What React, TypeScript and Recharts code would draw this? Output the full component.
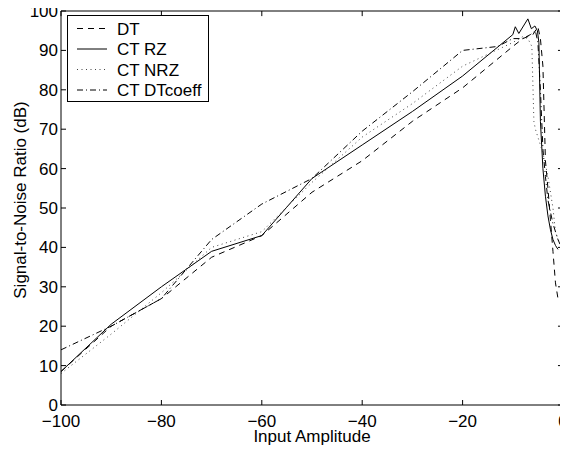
import { LineChart, Line, XAxis, YAxis, Legend, ReferenceLine } from 'recharts';

// DT
const dtX = [-100, -90, -80, -70, -60, -50, -40, -30, -20, -10, -8, -6, -5, -4.5, -4, -3.5, -3, -2.5, -2, -1.5, -1];
const dtY = [8.5, 20, 27, 37.5, 43, 54, 62, 72, 80.5, 91, 93, 94, 96, 93, 86, 62, 55, 47, 39, 31, 27];

// CT RZ
const rzX = [-100, -90, -80, -70, -60, -50, -40, -30, -20, -10, -9.5, -8.8, -7, -6.3, -5.6, -5.1, -4.8, -4.5, -4, -3.5, -3, -2.5, -2, -1.5, -1];
const rzY = [8.5, 20.5, 30, 39, 43, 57.5, 66, 74.5, 83.5, 94, 96, 94.3, 98, 95.5, 96.2, 95, 92, 72, 60, 53, 48, 44.5, 42, 40.5, 39.5];

// CT NRZ
const nrzX = [-100, -90, -80, -70, -60, -50, -40, -30, -20, -10, -8, -7, -6.2, -5.8, -5.5, -4, -3, -2, -1.5, -1, -0.5];
const nrzY = [8, 18, 28.5, 40, 44, 56.5, 68, 76.5, 86, 92, 93.5, 93, 91, 72, 70, 64, 58, 50, 44, 42, 41];

// CT DTcoeff
const dcX = [-100, -90, -80, -70, -60, -50, -40, -30, -20, -13, -10, -8, -6.5, -5.5, -5, -4.5, -4, -3.5, -3, -2, -1, -0.5];
const dcY = [14, 20, 27, 42, 51, 57.5, 69.5, 79.5, 90, 91, 93, 93, 94, 95, 92, 80, 65, 58, 52, 46, 42, 40.5];

const seriesNames = ['DT', 'CT RZ', 'CT NRZ', 'CT DTcoeff'];
const xTicks = [-100, -80, -60, -40, -20, 0];
const yTicks = [0, 10, 20, 30, 40, 50, 60, 70, 80, 90, 100];

const toPoints = (xs: number[], ys: number[]) => xs.map((x, i) => ({ x, y: ys[i] }));

const dtData = toPoints(dtX, dtY);
const rzData = toPoints(rzX, rzY);
const nrzData = toPoints(nrzX, nrzY);
const dcData = toPoints(dcX, dcY);

const dashes: Record<string, string | undefined> = {
  'DT': '6 5',
  'CT RZ': undefined,
  'CT NRZ': '1 3.5',
  'CT DTcoeff': '6 3 1 3',
};
const strokes: Record<string, string> = {
  'DT': '#000',
  'CT RZ': '#000',
  'CT NRZ': '#444',
  'CT DTcoeff': '#000',
};

const fmt = (v: number) => (v < 0 ? '\u2212' + Math.abs(v) : String(v));

const BottomTick = ({ x, y, payload }: any) => (
  <g>
    <line x1={x} x2={x} y1={y} y2={y - 5} stroke="#000" />
    <text x={x} y={y + 22} textAnchor="middle" fill="#000">{fmt(payload.value)}</text>
  </g>
);
const LeftTick = ({ x, y, payload }: any) => (
  <g>
    <line x1={x} x2={x + 5} y1={y} y2={y} stroke="#000" />
    <text x={x - 3} y={y + 6} textAnchor="end" fill="#000">{fmt(payload.value)}</text>
  </g>
);

const XLabel = ({ viewBox }: any) => (
  <text x={viewBox.x + viewBox.width / 2} y={viewBox.y + 37} textAnchor="middle" fill="#000">
    Input Amplitude
  </text>
);
const YLabel = ({ viewBox }: any) => {
  const cx = viewBox.x + 26;
  const cy = viewBox.y + viewBox.height / 2 - 8;
  return (
    <text x={cx} y={cy} textAnchor="middle" fill="#000" transform={`rotate(-90, ${cx}, ${cy})`}>
      Signal-to-Noise Ratio (dB)
    </text>
  );
};

const LegendBox = () => (
  <svg width={142} height={87} style={{ display: 'block' }}>
    <rect x={0.5} y={0.5} width={141} height={86} fill="#fff" stroke="#000" />
    {seriesNames.map((name, i) => {
      const cy = 13.5 + i * 20.5;
      return (
        <g key={name}>
          <line x1={10} x2={40} y1={cy} y2={cy} stroke={strokes[name]} strokeDasharray={dashes[name]} />
          <text x={50} y={cy + 6} fill="#000" fontSize={17}>{name}</text>
        </g>
      );
    })}
  </svg>
);

export default function App() {
  return (
    <div style={{ margin: -8, fontFamily: '"Liberation Sans", Arial, Helvetica, sans-serif', fontSize: 17 }}>
      <LineChart width={568} height={454} margin={{ top: 11, right: 5, left: 0, bottom: 0 }}>
        <XAxis
          dataKey="x"
          type="number"
          domain={[-100, 0]}
          ticks={xTicks}
          interval={0}
          allowDataOverflow
          height={49}
          tickSize={0}
          tickMargin={0}
          tickLine={false}
          tick={BottomTick}
          axisLine={{ stroke: '#000' }}
          label={<XLabel />}
        />
        <YAxis
          type="number"
          domain={[0, 100]}
          ticks={yTicks}
          interval={0}
          allowDataOverflow
          width={61}
          tickSize={0}
          tickMargin={0}
          tickLine={false}
          tick={LeftTick}
          axisLine={{ stroke: '#000' }}
          label={<YLabel />}
        />
        {/* box frame with inward ticks on the top and right edges */}
        <ReferenceLine y={100} stroke="#000" ifOverflow="visible" />
        <ReferenceLine x={0} stroke="#000" ifOverflow="visible" />
        {xTicks.map((v) => (
          <ReferenceLine key={`tx${v}`} segment={[{ x: v, y: 100 }, { x: v, y: 98.7 }]} stroke="#000" ifOverflow="visible" />
        ))}
        {yTicks.map((v) => (
          <ReferenceLine key={`ty${v}`} segment={[{ x: 0, y: v }, { x: -1, y: v }]} stroke="#000" ifOverflow="visible" />
        ))}
        <Legend
          layout="vertical"
          align="center"
          verticalAlign="middle"
          content={<LegendBox />}
          wrapperStyle={{ left: 67, top: 15, width: 142, height: 87 }}
        />
        <Line data={dtData} dataKey="y" name="DT" stroke={strokes['DT']} strokeDasharray={dashes['DT']} strokeWidth={1} dot={false} isAnimationActive={false} />
        <Line data={rzData} dataKey="y" name="CT RZ" stroke={strokes['CT RZ']} strokeWidth={1} dot={false} isAnimationActive={false} />
        <Line data={nrzData} dataKey="y" name="CT NRZ" stroke={strokes['CT NRZ']} strokeDasharray={dashes['CT NRZ']} strokeWidth={1} dot={false} isAnimationActive={false} />
        <Line data={dcData} dataKey="y" name="CT DTcoeff" stroke={strokes['CT DTcoeff']} strokeDasharray={dashes['CT DTcoeff']} strokeWidth={1} dot={false} isAnimationActive={false} />
      </LineChart>
    </div>
  );
}
